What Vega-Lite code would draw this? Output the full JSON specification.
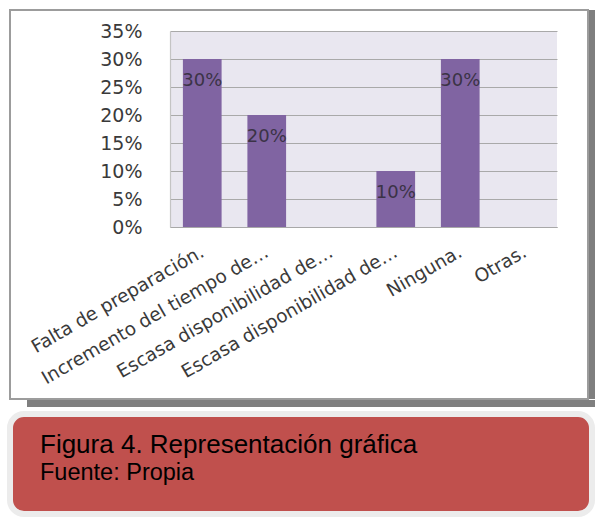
{
  "$schema": "https://vega.github.io/schema/vega-lite/v6.json",
  "background": "white",
  "padding": {"left": 7, "top": 9, "right": 0, "bottom": 0},
  "spacing": 4,
  "config": {
    "font": "DejaVu Sans"
  },
  "vconcat": [
    {
      "spacing": 0,
      "vconcat": [
        {
          "spacing": 0,
          "hconcat": [
            {
              "width": 578,
              "height": 389,
              "view": {"stroke": "#9c9c9c", "strokeWidth": 2, "fill": "white"},
              "data": {
                "values": [
                  {"cat": "Falta de preparación.", "pct": 0.30},
                  {"cat": "Incremento del tiempo de…", "pct": 0.20},
                  {"cat": "Escasa disponibilidad de…", "pct": 0.0},
                  {"cat": "Escasa disponibilidad de… ", "pct": 0.10},
                  {"cat": "Ninguna.", "pct": 0.30},
                  {"cat": "Otras.", "pct": 0.0}
                ]
              },
              "resolve": {"axis": {"x": "independent"}},
              "layer": [
                {
                  "mark": {"type": "bar", "color": "#8064A2", "width": {"band": 0.6}},
                  "encoding": {
                    "x": {
                      "field": "cat",
                      "type": "nominal",
                      "sort": null,
                      "scale": {"range": [160, 547], "paddingInner": 0, "paddingOuter": 0},
                      "axis": {
                        "orient": "top",
                        "title": null,
                        "labels": false,
                        "ticks": false,
                        "domain": false,
                        "grid": true,
                        "gridColor": "#E9E7F0",
                        "gridWidth": 65,
                        "bandPosition": 0.5
                      }
                    },
                    "y": {
                      "field": "pct",
                      "type": "quantitative",
                      "scale": {"domain": [0, 0.35], "range": [217, 21], "nice": false, "zero": true},
                      "axis": {
                        "title": null,
                        "format": ".0%",
                        "values": [0, 0.05, 0.1, 0.15, 0.2, 0.25, 0.3, 0.35],
                        "offset": -160,
                        "labelPadding": 28,
                        "labelFont": "DejaVu Sans",
                        "labelFontSize": 19,
                        "labelColor": "#3a3a3a",
                        "ticks": false,
                        "domainColor": "#c4c4c4",
                        "domainWidth": 1.2,
                        "gridColor": "#a9a9a9",
                        "gridWidth": 1.2
                      }
                    }
                  }
                },
                {
                  "transform": [{"filter": "datum.pct > 0"}],
                  "mark": {"type": "text", "dy": 22, "align": "center", "baseline": "middle", "font": "DejaVu Sans", "fontSize": 18, "color": "#3b3346"},
                  "encoding": {
                    "x": {
                      "field": "cat",
                      "type": "nominal",
                      "sort": null,
                      "axis": {
                        "orient": "bottom",
                        "title": null,
                        "grid": false,
                        "offset": -172,
                        "labelAngle": -30,
                        "labelAlign": "right",
                        "labelBaseline": "middle",
                        "labelPadding": 23,
                        "labelFont": "DejaVu Sans",
                        "labelFontSize": 18.5,
                        "labelColor": "#3a3a3a",
                        "labelLimit": 0,
                        "ticks": false,
                        "domainColor": "#a8a8a8",
                        "domainWidth": 1.2
                      }
                    },
                    "y": {"field": "pct", "type": "quantitative"},
                    "text": {"field": "pct", "type": "quantitative", "format": ".0%"}
                  }
                }
              ]
            },
            {
              "width": 6,
              "height": 389,
              "view": {"fill": "#7f7f7f", "stroke": null},
              "data": {"values": []},
              "mark": "point"
            }
          ]
        },
        {
          "spacing": 0,
          "hconcat": [
            {
              "width": 17,
              "height": 7,
              "view": {"fill": "white", "stroke": null},
              "data": {"values": []},
              "mark": "point"
            },
            {
              "width": 568,
              "height": 7,
              "view": {"fill": "#7f7f7f", "stroke": null},
              "data": {"values": []},
              "mark": "point"
            }
          ]
        }
      ]
    },
    {
      "width": 582,
      "height": 100,
      "view": {"fill": "#C0504D", "stroke": "#ececec", "strokeWidth": 6, "cornerRadius": 14},
      "title": {
        "text": "Figura 4. Representación gráfica",
        "subtitle": "Fuente: Propia",
        "anchor": "start",
        "frame": "group",
        "orient": "top",
        "offset": -70,
        "dx": 30,
        "font": "Liberation Sans",
        "fontSize": 26,
        "fontWeight": "normal",
        "color": "#000000",
        "subtitleFont": "Liberation Sans",
        "subtitleFontSize": 23.5,
        "subtitleColor": "#000000",
        "subtitlePadding": 3
      },
      "data": {"values": []},
      "mark": "point"
    }
  ]
}
